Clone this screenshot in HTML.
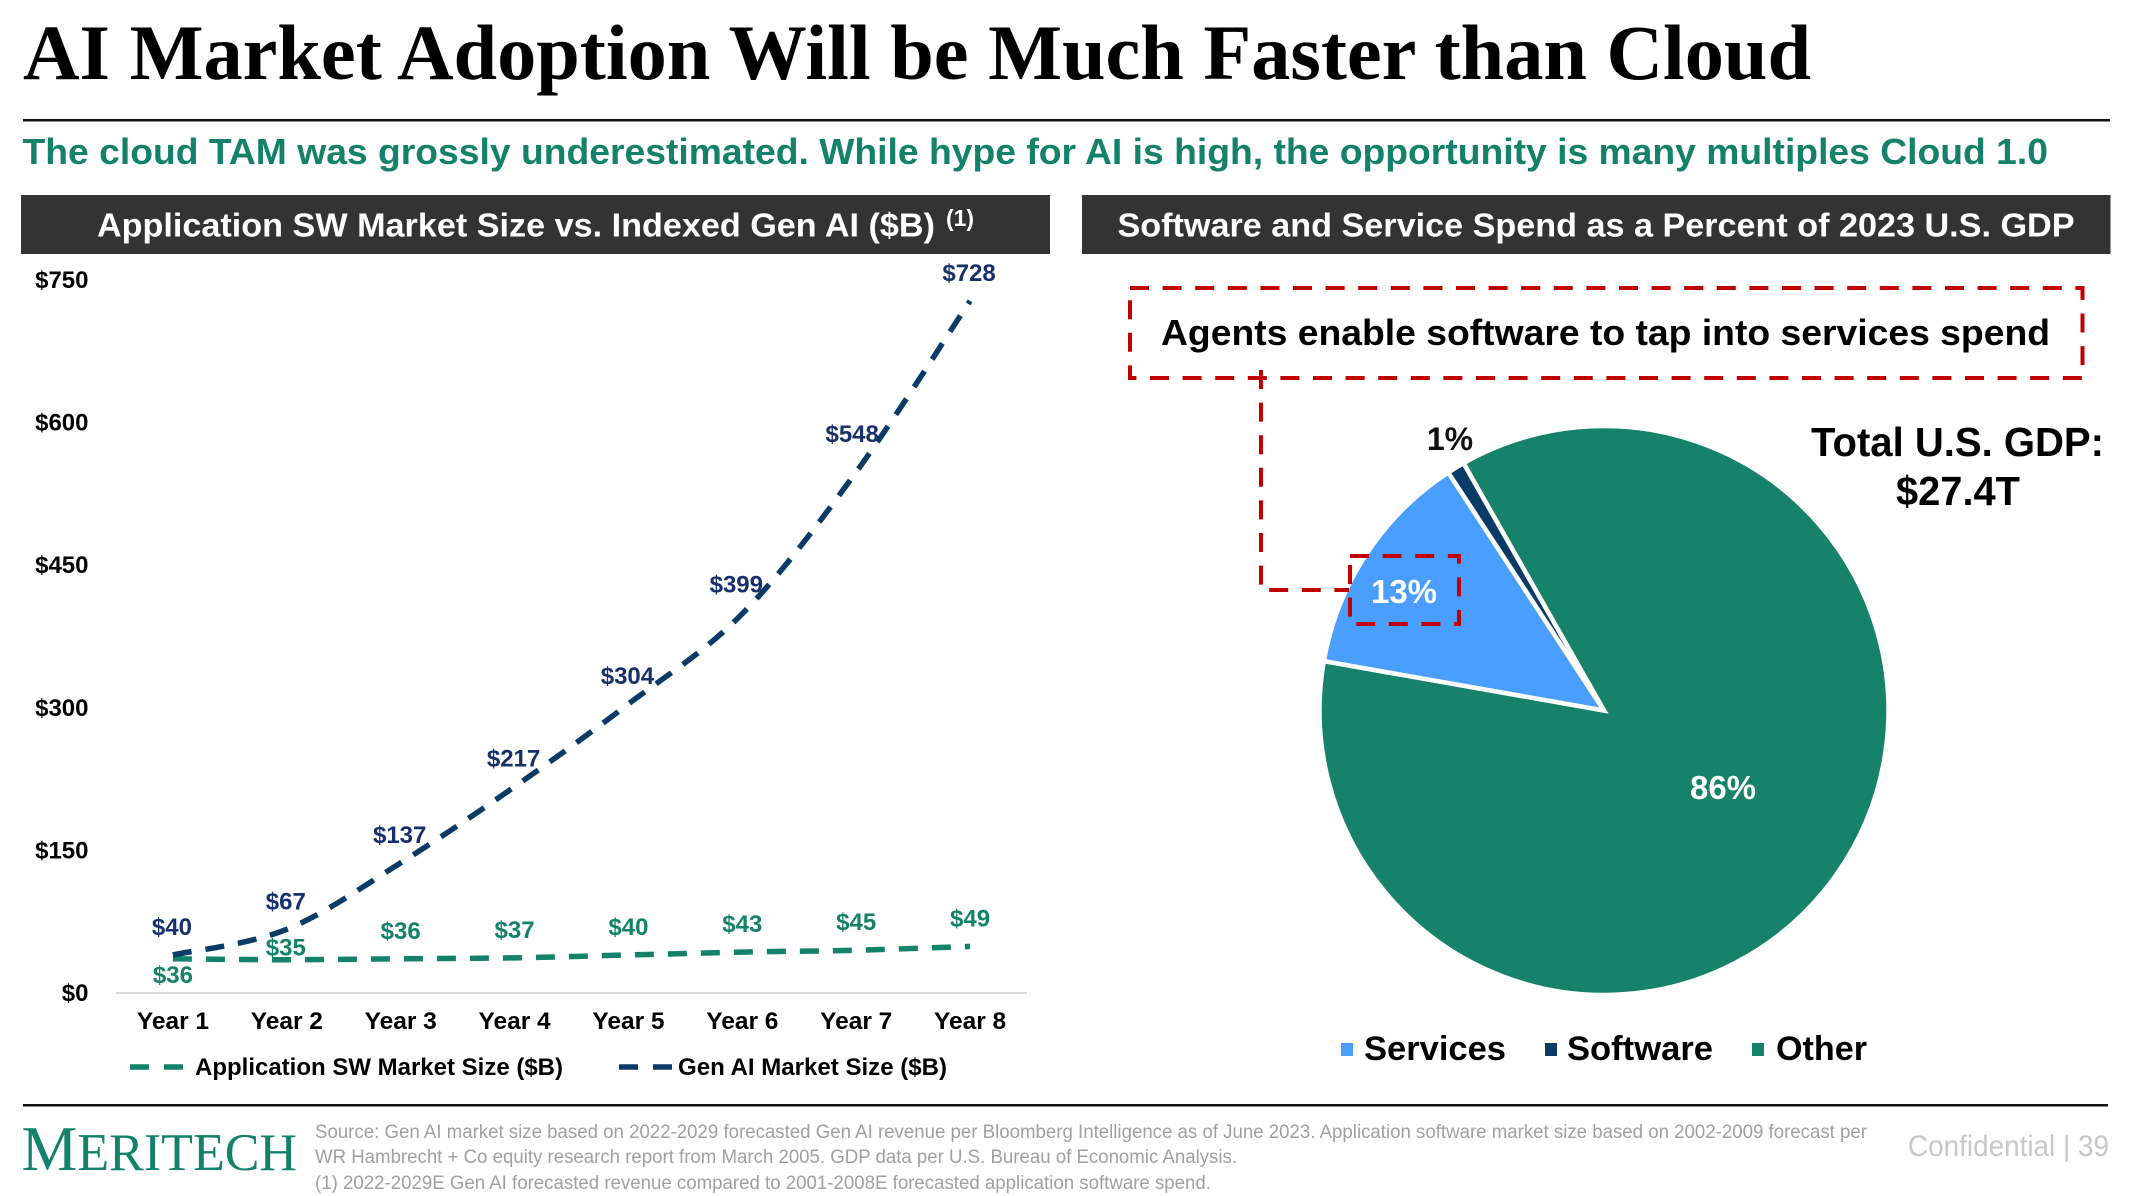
<!DOCTYPE html>
<html lang="en">
<head>
<meta charset="utf-8">
<title>AI Market Adoption Will be Much Faster than Cloud</title>
<style>
  html, body { margin: 0; padding: 0; background: #ffffff; }
  svg { display: block; width: 2146px; height: 1196px; }
  text { font-family: "Liberation Sans", Arial, sans-serif; font-weight: 700; }
  .serif { font-family: "Liberation Serif", "Times New Roman", serif; }
  .thin { font-weight: 400; }
</style>
</head>
<body>
<svg id="slide" xmlns="http://www.w3.org/2000/svg" width="2146" height="1196" viewBox="0 0 2146 1196">
  <rect x="0" y="0" width="2146" height="1196" fill="#ffffff"/>

  <text class="serif" x="23" y="79" font-size="78" fill="#000000" textLength="1788" lengthAdjust="spacingAndGlyphs">AI Market Adoption Will be Much Faster than Cloud</text>
  <rect x="23" y="119" width="2087" height="2.5" fill="#111111"/>
  <text x="22.5" y="164" font-size="36.5" fill="#14826a" textLength="2025.5" lengthAdjust="spacingAndGlyphs">The cloud TAM was grossly underestimated. While hype for AI is high, the opportunity is many multiples Cloud 1.0</text>

  <rect x="21" y="195" width="1029" height="59" fill="#333333"/>
  <text x="97" y="236.5" font-size="33.5" fill="#ffffff" textLength="838" lengthAdjust="spacingAndGlyphs">Application SW Market Size vs. Indexed Gen AI ($B)</text>
  <text x="946" y="226" font-size="23" fill="#ffffff" textLength="28" lengthAdjust="spacingAndGlyphs">(1)</text>
  <rect x="1082" y="195" width="1028.5" height="59" fill="#333333"/>
  <text x="1117.5" y="236.5" font-size="33.5" fill="#ffffff" textLength="957" lengthAdjust="spacingAndGlyphs">Software and Service Spend as a Percent of 2023 U.S. GDP</text>

  <g id="line-chart"></g>

  <g>
    <line x1="130" y1="1067" x2="183" y2="1067" stroke="#14826a" stroke-width="5.5" stroke-dasharray="19 15"/>
    <text x="195" y="1075" font-size="24.5" fill="#000000" textLength="368" lengthAdjust="spacingAndGlyphs">Application SW Market Size ($B)</text>
    <line x1="619" y1="1067" x2="672" y2="1067" stroke="#0a3a66" stroke-width="5.5" stroke-dasharray="19 15"/>
    <text x="678" y="1075" font-size="24.5" fill="#000000" textLength="269" lengthAdjust="spacingAndGlyphs">Gen AI Market Size ($B)</text>
  </g>

  <g id="pie-chart"></g>

  <text x="1450" y="450" font-size="32" fill="#111111" text-anchor="middle">1%</text>
  <text x="1404" y="603" font-size="33" fill="#ffffff" text-anchor="middle">13%</text>
  <text x="1723" y="799" font-size="33" fill="#ffffff" text-anchor="middle">86%</text>

  <g fill="none" stroke="#c00000" stroke-width="4">
    <rect x="1130" y="288" width="952.5" height="90" stroke-dasharray="19 13.6"/>
    <path d="M1261 370 V590 H1349" stroke-dasharray="19 13.6"/>
    <rect x="1350" y="556" width="109" height="68" stroke-dasharray="19 13.6"/>
  </g>
  <text x="1161" y="345" font-size="36" fill="#000000" textLength="889" lengthAdjust="spacingAndGlyphs">Agents enable software to tap into services spend</text>

  <text x="1811" y="456" font-size="41" fill="#000000" textLength="293" lengthAdjust="spacingAndGlyphs">Total U.S. GDP:</text>
  <text x="1896" y="505" font-size="41" fill="#000000" textLength="124" lengthAdjust="spacingAndGlyphs">$27.4T</text>

  <g>
    <rect x="1341" y="1043" width="12" height="13" fill="#4a9eff"/>
    <text x="1364" y="1060" font-size="34.5" fill="#000000" textLength="142" lengthAdjust="spacingAndGlyphs">Services</text>
    <rect x="1545" y="1043" width="12" height="13" fill="#0a3a66"/>
    <text x="1567" y="1060" font-size="34.5" fill="#000000" textLength="146" lengthAdjust="spacingAndGlyphs">Software</text>
    <rect x="1752" y="1043" width="12" height="13" fill="#16826a"/>
    <text x="1776" y="1060" font-size="34.5" fill="#000000" textLength="91" lengthAdjust="spacingAndGlyphs">Other</text>
  </g>

  <rect x="23" y="1104" width="2085" height="2.5" fill="#111111"/>
  <text class="serif thin" x="21.5" y="1170" font-size="53" fill="#14826a" textLength="275.5" lengthAdjust="spacingAndGlyphs"><tspan font-size="64">M</tspan>ERITECH</text>
  <g fill="#a0a0a0">
    <text class="thin" x="315" y="1138" font-size="19" textLength="1552" lengthAdjust="spacingAndGlyphs">Source: Gen AI market size based on 2022-2029 forecasted Gen AI revenue per Bloomberg Intelligence as of June 2023. Application software market size based on 2002-2009 forecast per</text>
    <text class="thin" x="315" y="1163" font-size="19" textLength="922" lengthAdjust="spacingAndGlyphs">WR Hambrecht + Co equity research report from March 2005. GDP data per U.S. Bureau of Economic Analysis.</text>
    <text class="thin" x="315" y="1189" font-size="19" textLength="896" lengthAdjust="spacingAndGlyphs">(1) 2022-2029E Gen AI forecasted revenue compared to 2001-2008E forecasted application software spend.</text>
  </g>
  <text class="thin" x="1908" y="1156" font-size="29.5" fill="#c8c8c8" textLength="201" lengthAdjust="spacingAndGlyphs">Confidential | 39</text>
</svg>

<script>
// Line chart data
const categories = ['Year 1', 'Year 2', 'Year 3', 'Year 4', 'Year 5', 'Year 6', 'Year 7', 'Year 8'];
const appSwValues = [36, 35, 36, 37, 40, 43, 45, 49];
const genAiValues = [40, 67, 137, 217, 304, 399, 548, 728];
const yTickValues = [0, 150, 300, 450, 600, 750];

// Pie chart data
const pieNames = ['other', 'services', 'software'];
const pieValues = [86, 13, 1];

const SVG_NS = 'http://www.w3.org/2000/svg';
const GREEN = '#14826a';
const NAVY = '#0a3a66';
const NAVY_TEXT = '#17306b';

function make(tag, attrs, parent, text) {
  const el = document.createElementNS(SVG_NS, tag);
  for (const key in attrs) el.setAttribute(key, attrs[key]);
  if (text !== undefined) el.textContent = text;
  parent.appendChild(el);
  return el;
}

// Axis functions
const plotLeft = 116, plotRight = 1027, zeroY = 993, topY = 280, yMax = 750;
function xScale(i) { return plotLeft + (plotRight - plotLeft) * (i + 0.5) / categories.length; }
function yScale(v) { return zeroY - (zeroY - topY) * v / yMax; }
function money(v) { return '$' + v; }

const chart = document.getElementById('line-chart');

yTickValues.forEach(function (v) {
  const t = make('text', { x: 88.5, y: yScale(v) + 8, 'font-size': 24, fill: '#000000', 'text-anchor': 'end' }, chart, money(v));
  
  
});

const axisLine = make('line', { x1: plotLeft, y1: zeroY, x2: plotRight, y2: zeroY, stroke: '#d9d9d9', 'stroke-width': 2 }, chart);



categories.forEach(function (c, i) {
  const t = make('text', { x: xScale(i), y: 1029, 'font-size': 24.5, fill: '#000000', 'text-anchor': 'middle' }, chart, c);
  
  
});

// Smoothed series path through the data points
function smoothPath(values) {
  const pts = values.map(function (v, i) { return [xScale(i), yScale(v)]; });
  let d = 'M' + pts[0][0] + ' ' + pts[0][1];
  for (let i = 0; i < pts.length - 1; i++) {
    const p0 = pts[Math.max(i - 1, 0)], p1 = pts[i], p2 = pts[i + 1], p3 = pts[Math.min(i + 2, pts.length - 1)];
    d += ' C' + (p1[0] + (p2[0] - p0[0]) / 6) + ' ' + (p1[1] + (p2[1] - p0[1]) / 6) +
         ' ' + (p2[0] - (p3[0] - p1[0]) / 6) + ' ' + (p2[1] - (p3[1] - p1[1]) / 6) +
         ' ' + p2[0] + ' ' + p2[1];
  }
  return d;
}

const appLine = make('path', { d: smoothPath(appSwValues), fill: 'none', stroke: GREEN, 'stroke-width': 5.5, 'stroke-dasharray': '19 14' }, chart);



const genLine = make('path', { d: smoothPath(genAiValues), fill: 'none', stroke: NAVY, 'stroke-width': 5.5, 'stroke-dasharray': '19 14' }, chart);



// Data labels sit above their point; a few were hand-nudged on the original slide
function genAiLabelNudge(i) {
  if (i === 5) return { dx: -6, dy: -1 };
  if (i === 6) return { dx: -4, dy: -10 };
  return { dx: -1, dy: 0 };
}
function appSwLabelNudge(i) {
  if (i === 0) return { dx: 0, dy: 44 };
  if (i === 1) return { dx: -1, dy: 16 };
  return { dx: 0, dy: 0 };
}

genAiValues.forEach(function (v, i) {
  const n = genAiLabelNudge(i);
  const t = make('text', { x: xScale(i) + n.dx, y: yScale(v) - 28 + 8 + n.dy, 'font-size': 24, fill: NAVY_TEXT, 'text-anchor': 'middle' }, chart, money(v));
  
  
});

appSwValues.forEach(function (v, i) {
  const n = appSwLabelNudge(i);
  const t = make('text', { x: xScale(i) + n.dx, y: yScale(v) - 28 + 8 + n.dy, 'font-size': 24, fill: GREEN, 'text-anchor': 'middle' }, chart, money(v));
  
  
});

// Pie chart
const pie = document.getElementById('pie-chart');
const pieCx = 1604, pieCy = 710.5, pieR = 284.5, pieStartDeg = -29.6;
const pieColors = { other: '#16826a', services: '#4a9eff', software: '#0a3a66' };
const pieTotal = pieValues.reduce(function (a, b) { return a + b; }, 0);

function polar(deg) {
  const r = deg * Math.PI / 180;
  return [pieCx + pieR * Math.sin(r), pieCy - pieR * Math.cos(r)];
}

let angle = pieStartDeg;
pieValues.forEach(function (v, i) {
  const sweep = v / pieTotal * 360;
  const a = polar(angle), b = polar(angle + sweep);
  const d = 'M' + pieCx + ' ' + pieCy + ' L' + a[0] + ' ' + a[1] +
            ' A' + pieR + ' ' + pieR + ' 0 ' + (sweep > 180 ? 1 : 0) + ' 1 ' + b[0] + ' ' + b[1] + ' Z';
  const slice = make('path', { d: d, fill: pieColors[pieNames[i]], stroke: '#ffffff', 'stroke-width': 4.5, 'stroke-linejoin': 'miter' }, pie);
  
  
  angle += sweep;
});
</script>
</body>
</html>
